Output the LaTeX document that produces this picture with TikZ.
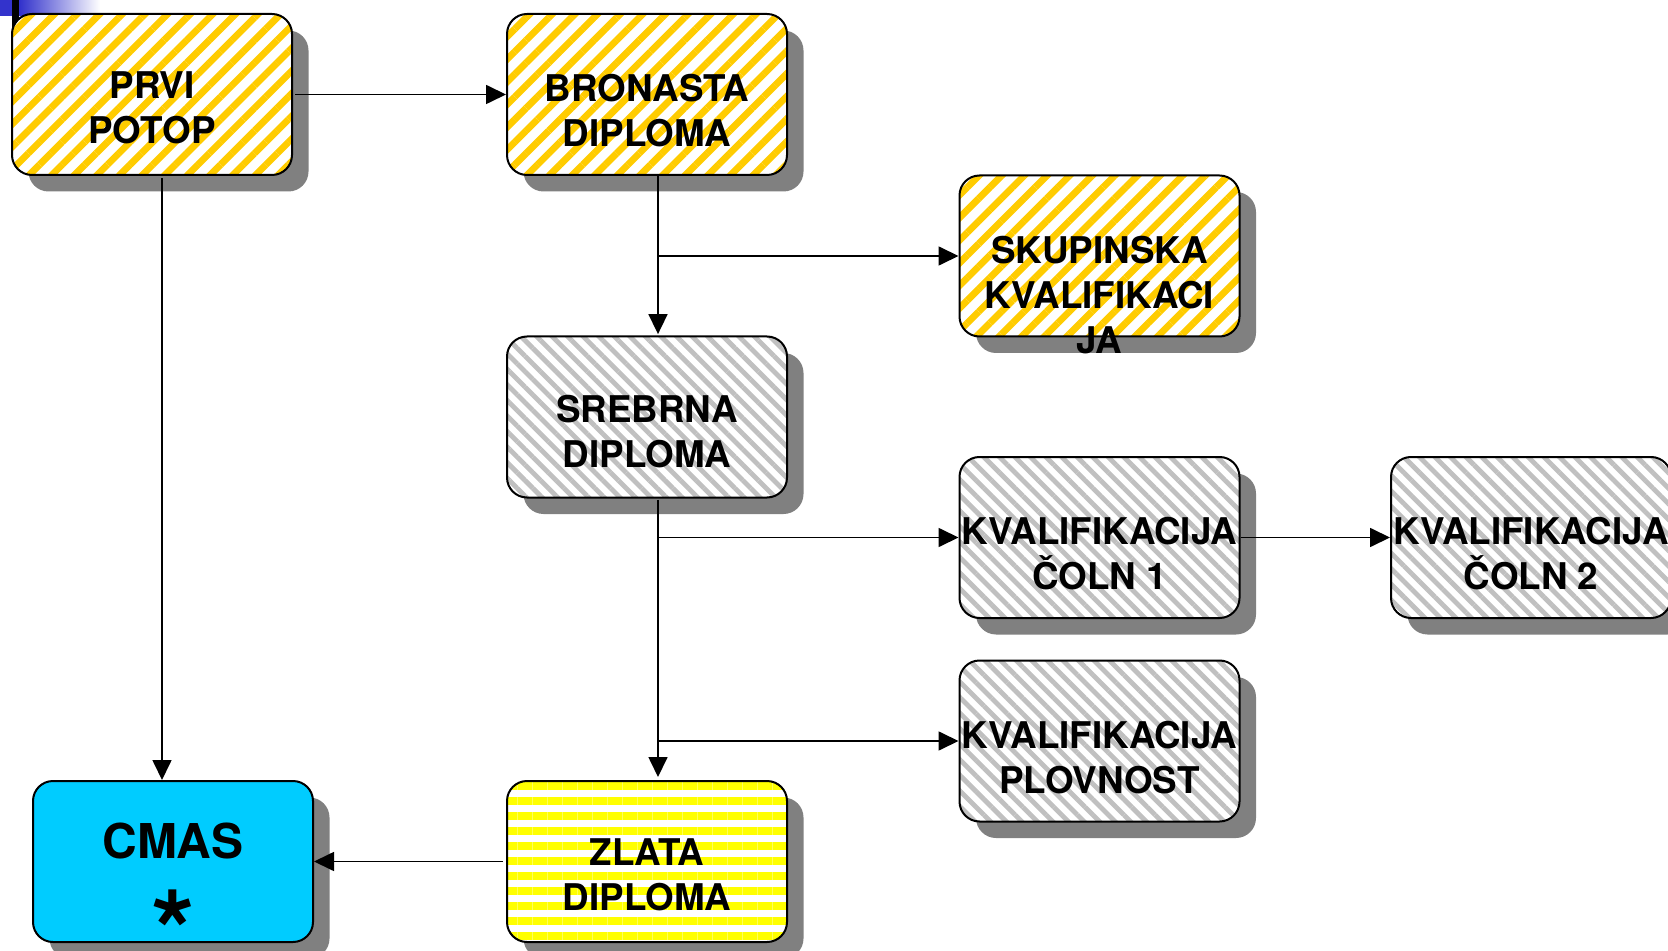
\documentclass[tikz,border=0pt]{standalone}
\usepackage{fontspec}
\setmainfont{TeX Gyre Heros}
\usetikzlibrary{arrows.meta,patterns.meta,shadows,positioning}

\definecolor{stripeyellow}{HTML}{FFCC00}
\definecolor{stripegray}{HTML}{C0C0C0}
\definecolor{stripegold}{HTML}{FFFF00}
\definecolor{cmasblue}{HTML}{00CCFF}
\definecolor{shadowgray}{HTML}{808080}
\definecolor{decoblue}{HTML}{3333CC}

\begin{document}
\begin{tikzpicture}[x=0.5pt,y=-0.5pt]
  \tikzstyle{box}=[rectangle, rounded corners=10pt, draw=black, line width=1pt,
    minimum width=140pt, minimum height=80.5pt,
    general shadow={fill=shadowgray, shadow xshift=8.25pt, shadow yshift=-8.25pt},
    preaction={fill=white}]
  \tikzstyle{yellowdiag}=[box, pattern={Lines[angle=45,distance=8pt,line width=3.4pt]}, pattern color=stripeyellow]
  \tikzstyle{graydiag}=[box, pattern={Lines[angle=-45,distance=5.5pt,line width=2.4pt]}, pattern color=stripegray]
  \tikzstyle{yellowlines}=[box, pattern={Lines[angle=0,distance=7.5pt,line width=4pt]}, pattern color=stripegold]
  \tikzstyle{bluebox}=[box, fill=cmasblue]
  \tikzstyle{lbl}=[anchor=north, inner sep=0pt, align=center, font=\bfseries\fontsize{18.4}{22.5}\selectfont]
  \tikzstyle{arr}=[-{Triangle[length=10pt,width=9.5pt]}, line width=0.85pt]

  \useasboundingbox (0,0) rectangle (1668,951);
  \clip (0,0) rectangle (1668,951);

  % slide corner
  \fill[decoblue] (0,0) rectangle (20,16);
  \shade[left color=decoblue, right color=white] (20,0) rectangle (100,16);
  \fill[black] (12,0) rectangle (19,27);

  \begin{scope}
    \node [yellowdiag] (prvi) at (152,94.5) {};
    \node [yellowdiag] (bron) at (647,94.5) {};
    \node [yellowdiag] (skup) at (1099.5,256) {};
    \node [graydiag] (sreb) at (647,417) {};
    \node [graydiag] (kval1) at (1099.5,537.5) {};
    \node [graydiag] (kval2) at (1531,537.5) {};
    \node [graydiag] (plov) at (1099.5,741) {};
    \node [bluebox] (cmas) at (173,861.5) {};
    \node [yellowlines] (zlata) at (647,861.5) {};
  \end{scope}

  \node [lbl] (prvi-t) at ([yshift=-30.5pt]prvi.north) {PRVI\\POTOP};
  \node [lbl] (bron-t) at ([yshift=-30.5pt]bron.north) {BRONASTA\\DIPLOMA};
  \node [lbl] (skup-t) at ([yshift=-30.5pt]skup.north) {SKUPINSKA\\KVALIFIKACI\\JA};
  \node [lbl] (sreb-t) at ([yshift=-30.5pt]sreb.north) {SREBRNA\\DIPLOMA};
  \node [lbl] (kval1-t) at ([yshift=-30.5pt]kval1.north) {KVALIFIKACIJA\\ČOLN 1};
  \node [lbl] (kval2-t) at ([yshift=-30.5pt]kval2.north) {KVALIFIKACIJA\\ČOLN 2};
  \node [lbl] (plov-t) at ([yshift=-30.5pt]plov.north) {KVALIFIKACIJA\\PLOVNOST};
  \node [lbl] (zlata-t) at ([yshift=-30.5pt]zlata.north) {ZLATA\\DIPLOMA};
  \node [lbl, font=\bfseries\fontsize{24}{28}\selectfont] (cmas-t) at ([yshift=-21.5pt]cmas.north) {CMAS};
  \node [anchor=base, inner sep=0pt, font=\bfseries\fontsize{56}{60}\selectfont] (cmas-star) at ([yshift=-95.5pt]cmas.north) {*};

  \draw [arr] (prvi.east) -- (bron.west);
  \draw [arr] ([xshift=5pt]prvi.south) -- ([xshift=5pt]prvi.south |- cmas.north);
  \draw [arr] ([xshift=5.5pt]bron.south) -- ([xshift=5.5pt]sreb.north);
  \draw [arr] ([xshift=5.5pt]bron.south |- skup.west) -- (skup.west);
  \draw [arr] ([xshift=5.5pt]sreb.south) -- ([xshift=5.5pt]zlata.north);
  \draw [arr] ([xshift=5.5pt]sreb.south |- kval1.west) -- (kval1.west);
  \draw [arr] (kval1.east) -- (kval2.west);
  \draw [arr] ([xshift=5.5pt]sreb.south |- plov.west) -- (plov.west);
  \draw [arr] (zlata.west) -- (cmas.east);
\end{tikzpicture}
\end{document}
